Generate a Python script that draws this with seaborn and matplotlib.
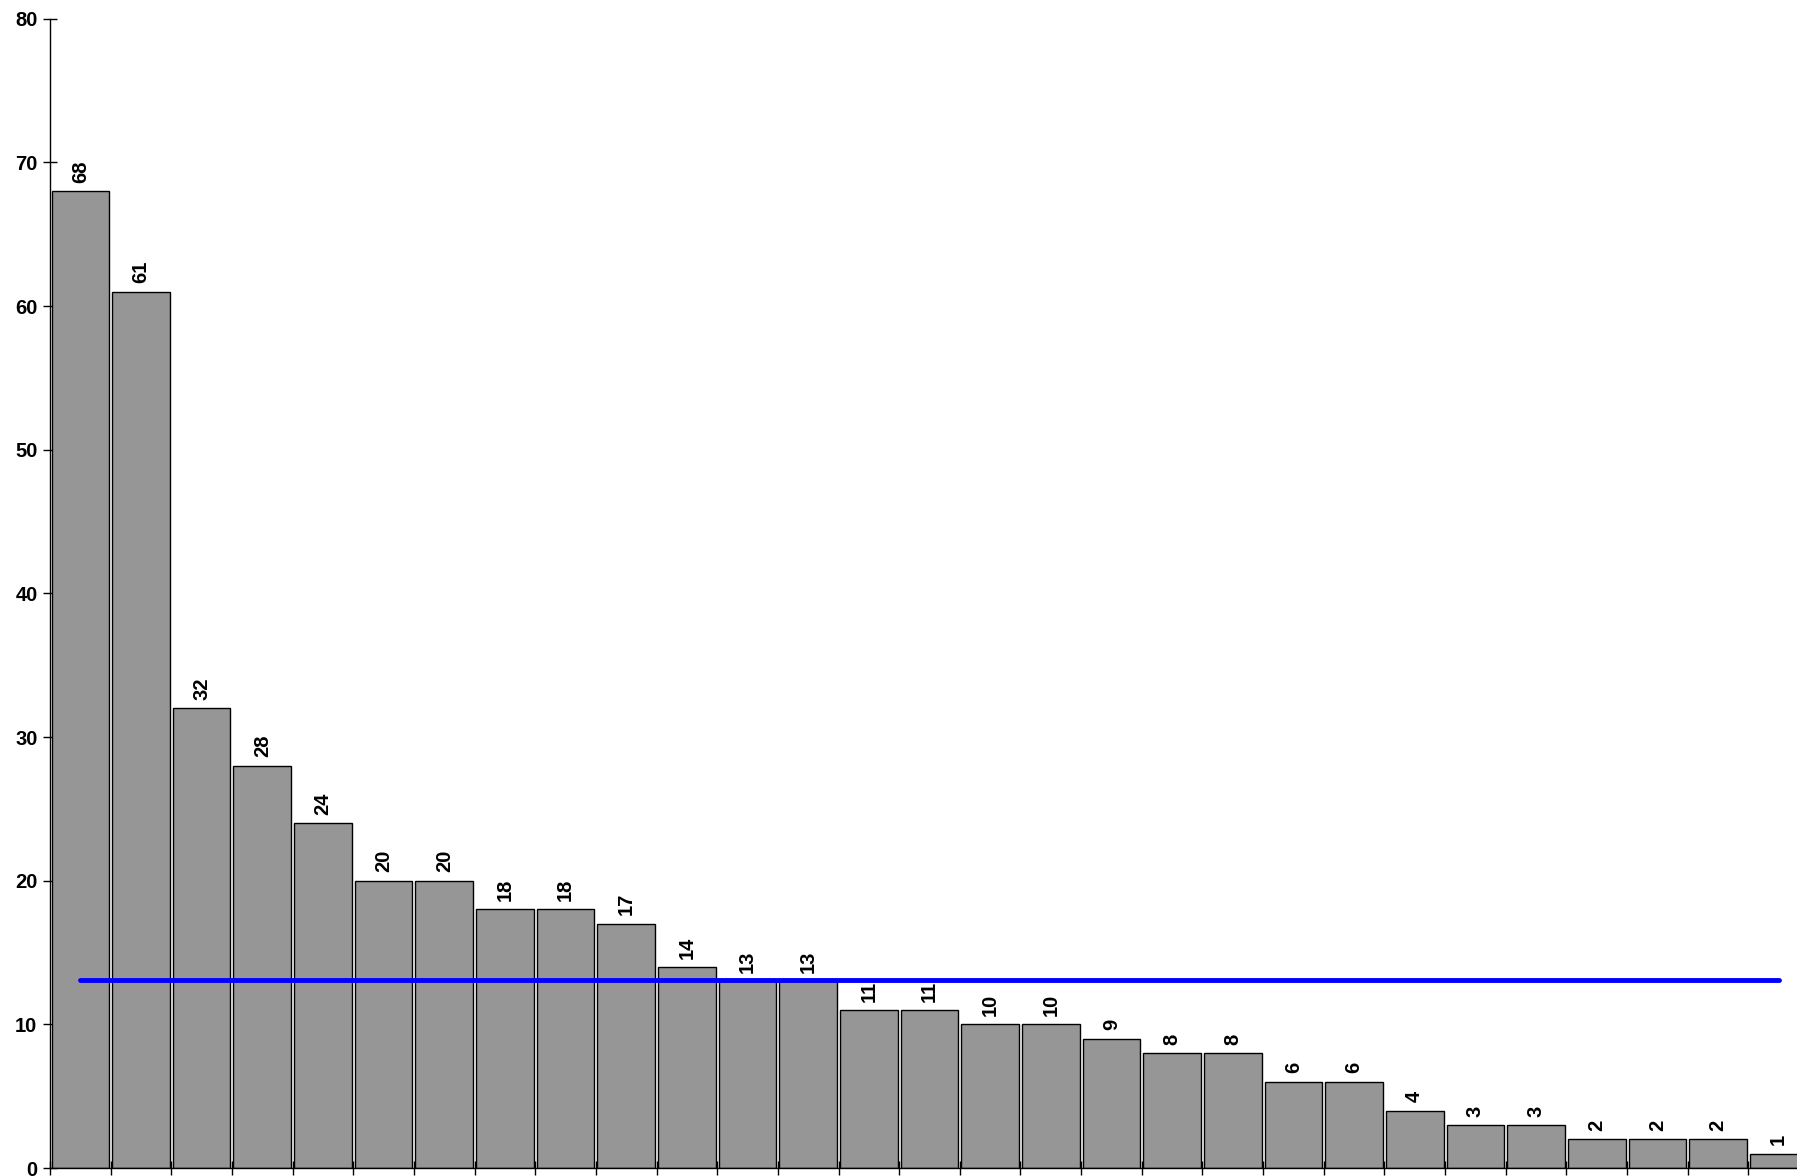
import pandas as pd
import matplotlib
matplotlib.use('Agg')
import matplotlib.pyplot as plt
import seaborn as sns

# Datos
categorias = [f'C{i + 1}' for i in range(29)]
valores = [68, 61, 32, 28, 24, 20, 20, 18, 18, 17, 14, 13, 13, 11, 11,
           10, 10, 9, 8, 8, 6, 6, 4, 3, 3, 2, 2, 2, 1]
linea_ref = 13.1
y_ticks = [0, 10, 20, 30, 40, 50, 60, 70, 80]

sns.set_style('white')
plt.rcParams['font.family'] = ['Liberation Sans', 'DejaVu Sans']
plt.rcParams['font.weight'] = 'bold'
plt.rcParams['text.color'] = 'black'
plt.rcParams['xtick.color'] = 'black'
plt.rcParams['ytick.color'] = 'black'

df = pd.DataFrame({'categoria': categorias, 'valor': valores})

W, H = 1797, 1176
fig = plt.figure(figsize=(W / 100, H / 100), dpi=100)
# el eje se extiende un poco mas alla del borde derecho, como en la referencia
ax = fig.add_axes([50 / W, 8 / H, 1759 / W, (1168 - 18.7) / H])

sns.barplot(data=df, x='categoria', y='valor', color='#969696',
            saturation=1, width=0.95, edgecolor='black', linewidth=1.0, ax=ax)

# etiquetas de valor
for i, v in enumerate(valores):
    ax.annotate(str(v), (i, v), xytext=(0, 6), textcoords='offset points',
                rotation=90, ha='center', va='bottom', color='black',
                fontsize=14.5, fontweight='bold')

# linea de referencia azul
ax.plot([0, len(valores) - 1], [linea_ref, linea_ref], color='#0000ff',
        linewidth=3.5, solid_capstyle='round', zorder=5)

ax.set_xlim(-0.5, len(valores) - 0.5)
ax.set_ylim(0, 80)
ax.set_yticks(y_ticks)
ax.set_yticklabels([str(t) for t in y_ticks], fontsize=14.5, fontweight='bold',
                   color='black')
ax.set_xticks([i - 0.5 for i in range(len(valores) + 1)])
ax.set_xticklabels([])
ax.tick_params(axis='both', direction='inout', length=10, width=1,
               color='black', bottom=True, left=True, pad=4)
ax.set_xlabel('')
ax.set_ylabel('')

for s in ['top', 'right']:
    ax.spines[s].set_visible(False)
for s in ['left', 'bottom']:
    ax.spines[s].set_color('black')
    ax.spines[s].set_linewidth(1.0)

fig.savefig('out.png', dpi=100)
